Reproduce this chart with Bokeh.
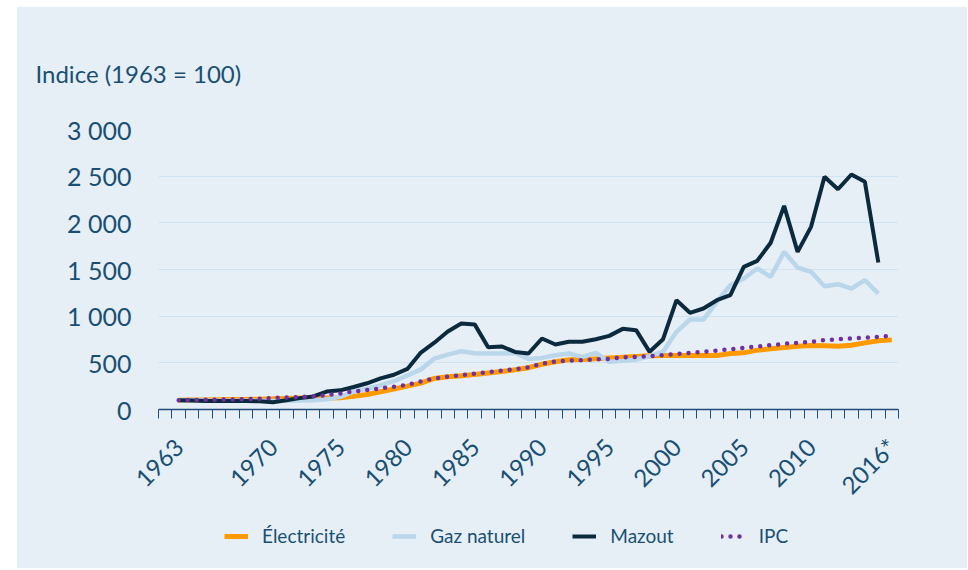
from math import pi
from bokeh.plotting import figure
from bokeh.models import Range1d, FixedTicker, Legend, LegendItem, Title, Spacer
from bokeh.layouts import row, column
from bokeh.embed import file_html
from bokeh.resources import INLINE

# ---------------- data ----------------
years = list(range(1963, 2017))          # 1963 ... 2016
years_to_2015 = list(range(1963, 2016))  # 1963 ... 2015

electricite = [100, 101, 102, 104, 106, 108, 111, 114, 118, 122,
               126, 124, 126, 143, 161, 190, 219, 251, 283, 333,
               351, 362, 375, 392, 408, 425, 448, 485, 512, 532,
               536, 543, 553, 561, 568, 575, 578, 578, 578, 578,
               578, 600, 607, 636, 650, 664, 678, 686, 682, 678,
               689, 714, 736, 746]

gaz_naturel = [100, 98, 96, 95, 94, 94, 93, 92, 94, 97,
               100, 110, 135, 190, 222, 258, 303, 365, 430, 545,
               588, 624, 603, 600, 600, 605, 542, 553, 582, 600,
               564, 607, 511, 521, 536, 571, 618, 832, 964, 964,
               1153, 1332, 1403, 1511, 1421, 1689, 1521, 1475, 1321, 1343,
               1296, 1386, 1243]

mazout = [100, 96, 92, 90, 92, 92, 88, 78, 100, 122,
          140, 192, 205, 241, 281, 333, 372, 435, 610, 716,
          835, 921, 912, 667, 676, 617, 600, 761, 696, 725,
          725, 753, 789, 864, 850, 618, 753, 1171, 1036, 1082,
          1171, 1225, 1528, 1593, 1786, 2182, 1689, 1957, 2493, 2360,
          2518, 2439, 1575]

ipc = [100, 101, 104, 106, 108, 112, 116, 123, 128, 134,
       141, 155, 172, 194, 208, 226, 244, 265, 301, 333,
       351, 369, 383, 402, 416, 431, 452, 489, 514, 525,
       529, 536, 543, 557, 564, 571, 582, 593, 607, 618,
       632, 646, 661, 675, 689, 704, 714, 725, 743, 753,
       761, 771, 778, 789]

x_tick_years = [1963, 1970, 1975, 1980, 1985, 1990, 1995, 2000, 2005, 2010, 2016]
x_tick_labels = ["1963", "1970", "1975", "1980", "1985", "1990", "1995",
                 "2000", "2005", "2010", "2016*"]
y_ticks = [0, 500, 1000, 1500, 2000, 2500, 3000]
y_tick_labels = ["0", "500", "1 000", "1 500", "2 000", "2 500", "3 000"]

series_names = ["Électricité", "Gaz naturel", "Mazout", "IPC"]
title_text = "Indice (1963 = 100)"

# ---------------- style ----------------
BG = "#E7EFF6"
TXT = "#1A4F73"
AXIS = "#1F4E79"
GRID = "#CFE3F2"
C_EL = "#FF9900"
C_GAZ = "#B9D6EA"
C_MAZ = "#0C2A3D"
C_IPC = "#7030A0"
FONT = "Lato"

styles = [dict(line_color=C_EL, line_width=5),
          dict(line_color=C_GAZ, line_width=4.5),
          dict(line_color=C_MAZ, line_width=4),
          dict(line_color=C_IPC, line_width=4.5, line_dash="0 9", line_cap="round")]
series_x = [years, years_to_2015, years_to_2015, years]
series_y = [electricite, gaz_naturel, mazout, ipc]

p = figure(frame_width=740, frame_height=280,
           x_range=Range1d(1961.5, 2016.5), y_range=Range1d(0, 3000),
           output_backend="svg", toolbar_location=None,
           min_border_left=141, min_border_right=69,
           min_border_top=122, min_border_bottom=104,
           background_fill_color=BG, border_fill_color=BG,
           outline_line_color=None)

t = Title(text=title_text, align="left", offset=-123,
          text_font=FONT, text_font_size="24px", text_font_style="normal",
          text_color=TXT, standoff=83)
p.add_layout(t, "above")

# y axis
p.yaxis.ticker = FixedTicker(ticks=y_ticks)
p.yaxis.major_label_overrides = {v: s for v, s in zip(y_ticks, y_tick_labels)}
p.yaxis.axis_line_color = None
p.yaxis.major_tick_line_color = None
p.yaxis.minor_tick_line_color = None
p.yaxis.major_tick_out = 0
p.yaxis.major_tick_in = 0
p.yaxis.major_label_standoff = 27
p.yaxis.major_label_text_font = FONT
p.yaxis.major_label_text_font_size = "25px"
p.yaxis.major_label_text_color = TXT

# x axis
p.xaxis.ticker = FixedTicker(ticks=x_tick_years,
                             minor_ticks=[1961.5 + i for i in range(56)])
p.xaxis.major_label_overrides = {v: s for v, s in zip(x_tick_years, x_tick_labels)}
p.xaxis.major_tick_in = 0
p.xaxis.major_tick_out = 0
p.xaxis.minor_tick_in = 0
p.xaxis.minor_tick_out = 9
p.xaxis.minor_tick_line_color = AXIS
p.xaxis.minor_tick_line_width = 1
p.xaxis.axis_line_color = AXIS
p.xaxis.axis_line_width = 1.5
p.xaxis.major_label_orientation = pi / 4
p.xaxis.major_label_standoff = 24
p.xaxis.major_label_text_font = FONT
p.xaxis.major_label_text_font_size = "24px"
p.xaxis.major_label_text_color = TXT

p.xgrid.visible = False
p.ygrid.grid_line_color = GRID
p.ygrid.grid_line_width = 1

for xs, ys, st in zip(series_x, series_y, styles):
    p.line(xs, ys, **st)

# ---------------- legend strip (its frame is aligned with the main frame) ----
lg = figure(frame_width=740, height=55,
            x_range=Range1d(1961.5, 2016.5), y_range=Range1d(5000, 6000),
            output_backend="svg", toolbar_location=None,
            x_axis_type=None, y_axis_type=None,
            min_border_left=141, min_border_right=69,
            min_border_top=0, min_border_bottom=0,
            background_fill_color=BG, border_fill_color=BG,
            outline_line_color=None)
lg.xgrid.visible = False
lg.ygrid.visible = False
items = []
for name, xs, ys, st in zip(series_names, series_x, series_y, styles):
    r = lg.line(xs, ys, **st)   # same series, outside the strip's y range
    items.append(LegendItem(label=name, renderers=[r]))

legend = Legend(items=items, orientation="horizontal", location=(66, 21),
                glyph_width=24, glyph_height=20, label_standoff=14, spacing=47,
                label_text_font=FONT, label_text_font_size="19px",
                label_text_color=TXT, background_fill_alpha=0,
                border_line_color=None, padding=0, margin=0)
lg.add_layout(legend, "center")

inner = column(p, lg, styles={"background-color": BG})
layout = column(Spacer(width=967, height=7),
                row(Spacer(width=17, height=561), inner))
open("out.html", "w").write(file_html(layout, INLINE))
